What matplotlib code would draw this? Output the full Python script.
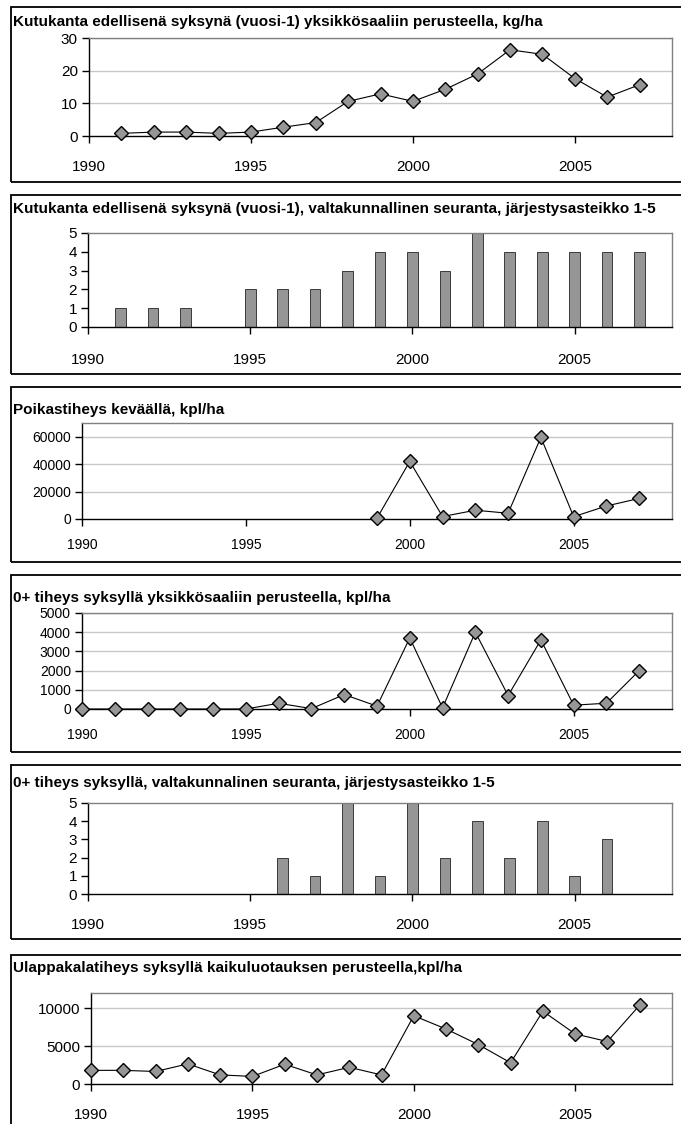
import numpy as np
import matplotlib.pyplot as plt
from matplotlib.patches import Rectangle

# data
years = list(range(1990, 2008))

spawn_years = [1991, 1992, 1993, 1994, 1995, 1996, 1997, 1998, 1999,
               2000, 2001, 2002, 2003, 2004, 2005, 2006, 2007]
spawn_kg = [0.8, 1.2, 1.2, 0.8, 1.2, 2.7, 4.1, 10.6, 12.9,
            10.6, 14.3, 19.0, 26.4, 25.0, 17.6, 11.9, 15.7]

spawn_rank_years = [1991, 1992, 1993, 1995, 1996, 1997, 1998, 1999,
                    2000, 2001, 2002, 2003, 2004, 2005, 2006, 2007]
spawn_rank = [1, 1, 1, 2, 2, 2, 3, 4, 4, 3, 5, 4, 4, 4, 4, 4]

spring_years = [1999, 2000, 2001, 2002, 2003, 2004, 2005, 2006, 2007]
spring_density = [600, 42000, 1800, 6400, 4200, 59500, 1700, 9500, 15000]

autumn_years = years
autumn_density = [0, 0, 0, 0, 0, 0, 300, 20, 750, 150,
                  3700, 60, 4000, 700, 3600, 200, 300, 2000]

autumn_rank_years = [1996, 1997, 1998, 1999, 2000, 2001, 2002, 2003, 2004, 2005, 2006]
autumn_rank = [2, 1, 5, 1, 5, 2, 4, 2, 4, 1, 3]

pelagic_years = years
pelagic_density = [1800, 1800, 1650, 2650, 1200, 1000, 2600, 1200, 2200, 1200,
                   9000, 7250, 5200, 2800, 9600, 6600, 5600, 10400]

titles = [
    "Kutukanta edellisenä syksynä (vuosi-1) yksikkösaaliin perusteella, kg/ha",
    "Kutukanta edellisenä syksynä (vuosi-1), valtakunnallinen seuranta, järjestysasteikko 1-5",
    "Poikastiheys keväällä, kpl/ha",
    "0+ tiheys syksyllä yksikkösaaliin perusteella, kpl/ha",
    "0+ tiheys syksyllä, valtakunnalinen seuranta, järjestysasteikko 1-5",
    "Ulappakalatiheys syksyllä kaikuluotauksen perusteella,kpl/ha",
]

W, H = 681, 1124
TITLE_FONT = ["Liberation Sans Narrow", "Liberation Sans", "DejaVu Sans"]
TICK_FONT = ["Liberation Sans", "DejaVu Sans"]

fig = plt.figure(figsize=(W / 100, H / 100), dpi=100)


def px_rect(left, top, right, bottom):
    return [left / W, 1 - bottom / H, (right - left) / W, (bottom - top) / H]


def panel_box(top, bottom, title, title_y):
    fig.patches.append(Rectangle((11 / W, 1 - bottom / H), (700 - 11) / W, (bottom - top) / H,
                                 transform=fig.transFigure, fill=False,
                                 edgecolor="black", linewidth=1.3))
    fig.text(13 / W, 1 - title_y / H, title, fontsize=11, fontweight="bold",
             family=TITLE_FONT, ha="left", va="center")


def style_axes(ax, ylim, yticks, grid, tick_size=11, xpad=10):
    ax.set_xlim(1990, 2008)
    ax.set_ylim(*ylim)
    ax.set_xticks([1990, 1995, 2000, 2005])
    ax.set_yticks(yticks)
    for side in ["top", "right"]:
        ax.spines[side].set_color("#808080")
        ax.spines[side].set_linewidth(1.0)
    for side in ["left", "bottom"]:
        ax.spines[side].set_color("black")
        ax.spines[side].set_linewidth(1.0)
    ax.tick_params(axis="x", direction="out", length=5, width=1, pad=xpad, labelsize=tick_size)
    ax.tick_params(axis="y", direction="out", length=5, width=1, pad=3, labelsize=tick_size)
    for lab in ax.get_xticklabels() + ax.get_yticklabels():
        lab.set_family(TICK_FONT)
    if grid:
        for v in yticks[1:]:
            ax.axhline(v, color="#c8c8c8", linewidth=1.0, zorder=0)
    ax.set_facecolor("white")


def line_panel(ax, x, y):
    ax.plot(x, y, color="black", linewidth=0.8, marker="D", markersize=7,
            markerfacecolor="#969696", markeredgecolor="black", markeredgewidth=1.0,
            zorder=3, clip_on=False)


def bar_panel(ax, x, y):
    ax.bar(x, y, width=0.33, color="#969696", edgecolor="#3a3a3a", linewidth=0.7, zorder=2)


# panel 1
panel_box(7, 182, titles[0], 22)
ax1 = fig.add_axes(px_rect(89, 38, 672, 136))
line_panel(ax1, spawn_years, spawn_kg)
style_axes(ax1, (0, 30), [0, 10, 20, 30], True, xpad=12)

# panel 2
panel_box(195, 374, titles[1], 209)
ax2 = fig.add_axes(px_rect(88, 233, 672, 327))
bar_panel(ax2, spawn_rank_years, spawn_rank)
style_axes(ax2, (0, 5), [0, 1, 2, 3, 4, 5], False, xpad=14)

# panel 3
panel_box(387, 562, titles[2], 410)
ax3 = fig.add_axes(px_rect(82, 423, 672, 519))
line_panel(ax3, spring_years, spring_density)
style_axes(ax3, (0, 70000), [0, 20000, 40000, 60000], True, tick_size=10, xpad=9)

# panel 4
panel_box(575, 752, titles[3], 598)
ax4 = fig.add_axes(px_rect(82, 613, 672, 709))
line_panel(ax4, autumn_years, autumn_density)
style_axes(ax4, (0, 5000), [0, 1000, 2000, 3000, 4000, 5000], True, tick_size=10, xpad=9)

# panel 5
panel_box(765, 939, titles[4], 783)
ax5 = fig.add_axes(px_rect(88, 803, 672, 894))
bar_panel(ax5, autumn_rank_years, autumn_rank)
style_axes(ax5, (0, 5), [0, 1, 2, 3, 4, 5], False, xpad=12)

# panel 6
panel_box(955, 1130, titles[5], 968)
ax6 = fig.add_axes(px_rect(91, 993, 672, 1084))
line_panel(ax6, pelagic_years, pelagic_density)
style_axes(ax6, (0, 12000), [0, 5000, 10000], True, xpad=12)

fig.savefig("out.png", dpi=100)
